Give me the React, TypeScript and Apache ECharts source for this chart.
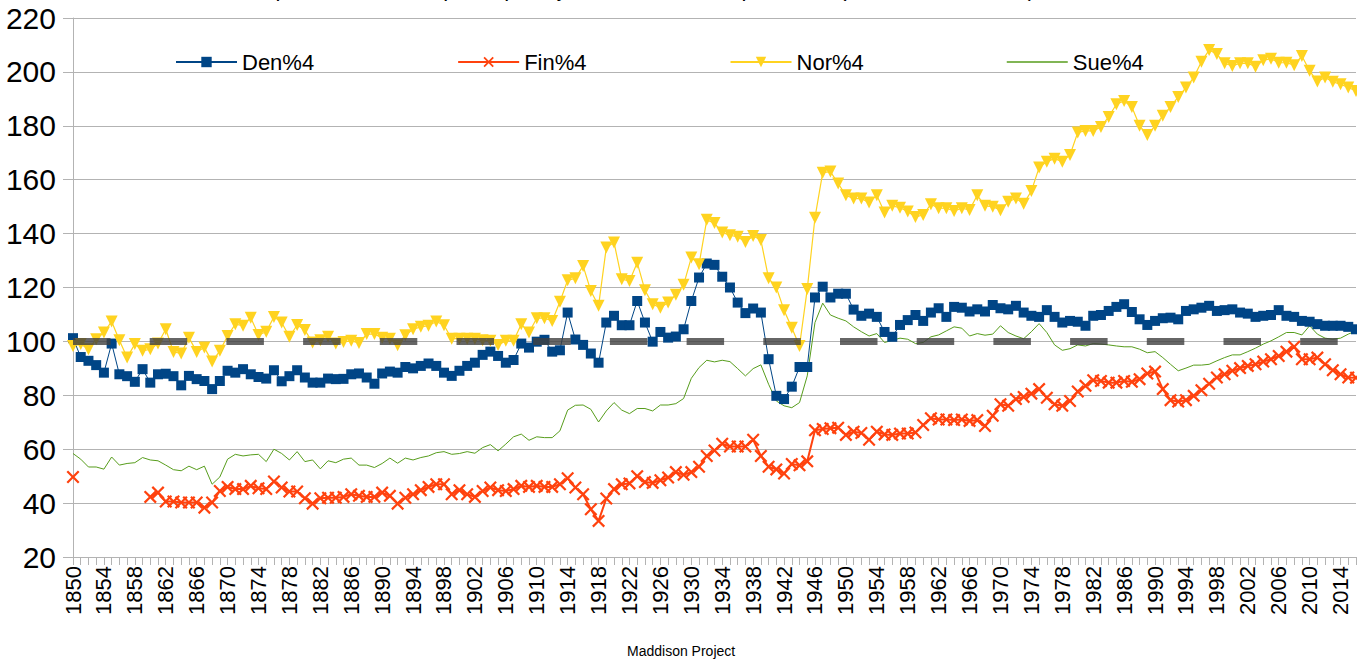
import React, { useEffect, useRef } from "react";
import * as echarts from "echarts";

const FIRST_YEAR = 1850;

const den: number[] = [
  101.2, 94.2, 92.8, 91.2, 88.4, 99.2, 87.8, 87.1, 85.0, 89.7,
  84.7, 87.8, 88.0, 87.1, 83.7, 87.2, 86.0, 85.3, 82.3, 85.3,
  89.1, 88.4, 89.7, 87.8, 86.8, 86.2, 89.3, 85.2, 87.1, 89.3,
  86.6, 84.7, 84.7, 86.2, 86.0, 86.1, 87.8, 88.1, 86.6, 84.3,
  88.1, 88.8, 88.4, 90.5, 90.0, 90.9, 91.8, 90.9, 88.4, 87.2,
  89.1, 90.9, 92.1, 95.0, 96.2, 94.6, 92.1, 93.1, 99.2, 97.7,
  99.9, 100.6, 96.2, 96.7, 110.7, 100.7, 98.7, 95.5, 92.1, 107.0,
  109.5, 106.0, 106.0, 115.0, 107.0, 99.9, 103.5, 101.4, 101.8, 104.5,
  115.0, 123.7, 128.9, 128.4, 124.0, 120.0, 114.4, 110.5, 112.2, 110.7,
  93.4, 79.8, 78.6, 83.2, 90.5, 90.5, 116.3, 120.3, 116.3, 117.7,
  117.7, 111.8, 109.5, 110.3, 109.1, 103.5, 101.7, 106.1, 107.9, 109.8,
  107.6, 110.7, 112.3, 109.1, 112.8, 112.5, 111.1, 111.9, 111.1, 113.5,
  112.3, 111.9, 113.2, 110.7, 109.5, 109.1, 111.6, 109.1, 107.0, 107.6,
  107.3, 105.8, 109.5, 109.8, 111.3, 112.8, 113.8, 110.9, 108.2, 106.1,
  107.6, 108.6, 108.8, 108.2, 111.3, 111.9, 112.5, 113.2, 111.3, 111.6,
  111.9, 110.7, 110.3, 109.1, 109.5, 109.8, 111.6, 109.5, 109.1, 107.6,
  107.3, 106.4, 105.8, 105.8, 105.8, 105.4, 104.5,
];

const fin: (number | null)[] = [
  49.7, null, null, null, null, null, null, null, null, null,
  42.3, 43.9, 40.6, 40.6, 40.2, 40.2, 40.2, 38.3, 40.2, 44.5,
  46.0, 45.2, 45.2, 46.4, 45.5, 45.2, 48.0, 45.8, 44.3, 44.3,
  41.8, 39.8, 41.8, 42.0, 42.0, 42.3, 43.3, 42.7, 42.3, 42.3,
  43.9, 42.7, 39.8, 42.0, 43.3, 44.8, 46.0, 47.0, 47.0, 43.3,
  44.8, 43.3, 42.3, 44.5, 45.8, 44.8, 44.5, 45.2, 46.4, 46.0,
  46.4, 46.0, 46.0, 47.0, 49.2, 45.8, 43.3, 37.7, 33.4, 41.7,
  45.2, 47.0, 47.3, 50.0, 47.8, 47.5, 48.5, 49.5, 51.5, 50.5,
  51.5, 53.5, 57.5, 59.5, 62.0, 61.0, 61.0, 61.0, 63.5, 57.5,
  53.5, 52.5, 51.0, 54.5, 54.0, 55.5, 67.0, 67.5, 67.8, 68.0,
  65.3, 66.5, 66.0, 63.5, 66.5, 65.5, 65.3, 65.8, 65.8, 66.2,
  69.0, 71.5, 71.0, 71.0, 70.8, 71.0, 70.5, 70.8, 68.6, 72.4,
  76.7, 76.1, 78.6, 79.4, 80.6, 82.3, 79.1, 76.7, 76.1, 77.9,
  81.4, 83.5, 85.6, 85.3, 84.7, 84.7, 85.3, 85.0, 86.0, 88.1,
  88.8, 82.3, 78.2, 77.7, 78.2, 79.8, 81.9, 84.3, 86.6, 87.8,
  89.1, 90.1, 90.9, 91.5, 92.5, 93.4, 94.6, 96.2, 98.0, 93.4,
  93.4, 94.0, 91.5, 89.3, 87.8, 86.6, 86.5,
];

const nor: number[] = [
  98.3, 99.0, 97.1, 100.8, 103.3, 107.4, 100.4, 94.0, 99.0, 96.5,
  97.1, 99.2, 104.5, 96.1, 95.5, 101.4, 96.1, 97.7, 92.5, 96.5,
  102.0, 106.4, 105.8, 108.8, 102.4, 103.6, 109.1, 107.0, 101.7, 106.1,
  104.2, 99.6, 100.4, 101.7, 99.2, 99.8, 100.2, 99.4, 102.7, 102.7,
  101.4, 101.0, 98.6, 102.3, 104.5, 105.4, 105.8, 107.4, 106.0, 101.0,
  101.0, 101.0, 101.0, 100.4, 100.2, 98.7, 100.2, 100.2, 106.4, 103.3,
  108.6, 108.6, 107.6, 114.7, 122.7, 123.4, 128.0, 118.7, 113.2, 134.8,
  136.7, 123.1, 122.4, 129.2, 119.0, 113.8, 112.5, 114.4, 117.3, 121.0,
  131.1, 128.6, 145.1, 143.9, 140.4, 139.4, 138.8, 136.9, 139.1, 137.6,
  123.4, 120.0, 111.6, 105.1, 98.3, 119.4, 145.9, 162.6, 163.0, 158.6,
  154.2, 153.0, 153.0, 151.5, 154.2, 147.8, 150.3, 149.6, 148.2, 146.2,
  146.9, 150.9, 149.4, 149.4, 148.4, 149.4, 148.8, 154.2, 150.3, 150.0,
  148.7, 151.8, 153.0, 151.1, 155.8, 164.5, 166.7, 167.8, 166.7, 169.2,
  177.5, 178.1, 178.1, 179.6, 183.3, 188.0, 189.2, 187.0, 180.0, 176.6,
  180.0, 183.7, 187.0, 190.7, 194.2, 197.9, 203.8, 208.1, 206.6, 203.2,
  202.2, 203.2, 203.2, 201.9, 204.3, 204.9, 203.4, 203.4, 202.5, 205.9,
  200.4, 196.4, 197.9, 196.3, 195.4, 194.2, 192.9,
];

const sue: number[] = [
  58.4, 56.3, 53.4, 53.4, 52.6, 57.1, 54.1, 54.7, 55.0, 56.9,
  56.0, 55.7, 54.1, 52.4, 52.0, 53.7, 52.4, 53.7, 47.0, 49.7,
  56.3, 58.1, 57.5, 57.9, 58.1, 55.4, 60.0, 58.4, 56.0, 59.1,
  55.4, 56.0, 52.7, 55.7, 55.0, 56.3, 56.7, 54.1, 54.1, 53.2,
  54.7, 56.7, 54.8, 56.7, 56.0, 56.9, 57.5, 58.7, 59.1, 58.1,
  58.4, 59.1, 58.5, 60.6, 61.7, 59.4, 61.9, 64.6, 65.6, 63.3,
  64.6, 64.3, 64.3, 66.8, 74.5, 76.3, 76.4, 74.8, 70.1, 74.2,
  77.3, 74.5, 73.2, 75.1, 75.1, 74.2, 76.4, 76.4, 76.9, 78.8,
  86.3, 90.3, 93.0, 92.4, 93.0, 92.5, 89.9, 87.2, 89.9, 91.3,
  84.1, 77.9, 76.1, 75.4, 77.3, 87.2, 107.0, 114.2, 109.8, 108.6,
  107.6, 105.4, 103.6, 102.0, 102.9, 99.6, 100.4, 101.2, 100.8, 99.2,
  99.6, 101.7, 102.4, 103.9, 105.4, 104.9, 102.0, 102.9, 102.3, 102.7,
  105.8, 103.3, 102.0, 101.0, 103.6, 106.6, 103.3, 98.7, 96.7, 97.3,
  98.7, 98.3, 99.2, 99.0, 98.7, 98.3, 98.0, 98.0, 97.1, 95.8,
  96.2, 94.0, 91.5, 89.1, 90.1, 91.2, 91.2, 91.5, 92.8, 94.0,
  95.0, 95.0, 96.2, 97.5, 99.0, 100.2, 101.7, 103.3, 103.3, 102.4,
  105.8, 102.7, 101.2, 100.8, 101.2, 102.7, 103.9,
];

const years: string[] = den.map((_, i) => String(FIRST_YEAR + i));
const seriesNames = ["Den%4", "Fin%4", "Nor%4", "Sue%4"];
const seriesColors = ["#004586", "#ff420e", "#ffd320", "#579d1c"];
const REFERENCE_LEVEL = 100;
const Y_MIN = 20;
const Y_MAX = 220;
const Y_STEP = 20;

const TITLE = "Comparación del PIB per cápita ajustado, relativo al promedio (Den, Fin, Nor, Sue)";
const SOURCE = "Maddison Project";

const CROSS =
  "path://M0,2.4 L2.4,0 L10,7.6 L17.6,0 L20,2.4 L12.4,10 L20,17.6 L17.6,20 L10,12.4 L2.4,20 L0,17.6 L7.6,10 Z";
const LINE_ICON = "path://M0,0 L100,0 L100,2.4 L0,2.4 Z";

const FONT = "'Liberation Sans', Arial, sans-serif";
const NARROW = "'Liberation Sans Narrow', 'Arial Narrow', 'Liberation Sans', sans-serif";

export default function App() {
  const ref = useRef<HTMLDivElement>(null);
  useEffect(() => {
    if (!ref.current) return;
    const chart = echarts.init(ref.current, undefined, { renderer: "svg" });
    const axisGray = "#b3b3b3";
    chart.setOption({
      animation: false,
      backgroundColor: "#ffffff",
      textStyle: { fontFamily: FONT },
      grid: { left: 73, right: 1, top: 18, bottom: 104, containLabel: false },
      legend: {
        data: [
          { name: seriesNames[0] },
          { name: seriesNames[1] },
          { name: seriesNames[2] },
          {
            name: seriesNames[3],
            icon: LINE_ICON,
            itemStyle: { color: seriesColors[3], borderWidth: 0 },
          },
        ],
        left: 170,
        top: 46,
        itemWidth: 61,
        itemHeight: 13,
        itemGap: 143,
        textStyle: { fontSize: 22, color: "#000", fontFamily: FONT },
      },
      xAxis: {
        type: "category",
        data: years,
        boundaryGap: false,
        axisLine: { show: true, lineStyle: { color: axisGray, width: 1 } },
        axisTick: { show: true, interval: 0, length: 8, lineStyle: { color: axisGray } },
        axisLabel: {
          interval: 3,
          rotate: 90,
          fontSize: 22,
          color: "#000",
          margin: 9,
          fontFamily: FONT,
        },
        splitLine: { show: false },
      },
      yAxis: {
        type: "value",
        min: Y_MIN,
        max: Y_MAX,
        interval: Y_STEP,
        axisLine: { show: true, lineStyle: { color: axisGray, width: 1 } },
        axisTick: { show: true, length: 10, lineStyle: { color: axisGray } },
        axisLabel: { fontSize: 30, color: "#000", margin: 17, fontFamily: NARROW },
        splitLine: { show: true, lineStyle: { color: axisGray, width: 1 } },
      },
      graphic: [
        {
          type: "text",
          right: 1357 - 1035,
          top: -23,
          style: { text: TITLE, fontSize: 22, fill: "#000", fontFamily: FONT },
          silent: true,
        },
        {
          type: "text",
          left: 627,
          top: 644,
          style: { text: SOURCE, fontSize: 14, fill: "#000", fontFamily: FONT },
          silent: true,
        },
      ],
      series: [
        {
          name: seriesNames[0],
          type: "line",
          data: den,
          symbol: "rect",
          symbolSize: 10,
          showAllSymbol: true,
          itemStyle: { color: seriesColors[0] },
          lineStyle: { color: seriesColors[0], width: 1 },
        },
        {
          name: seriesNames[1],
          type: "line",
          data: fin,
          symbol: CROSS,
          symbolSize: 13,
          showAllSymbol: true,
          connectNulls: false,
          itemStyle: { color: seriesColors[1] },
          lineStyle: { color: seriesColors[1], width: 2 },
        },
        {
          name: seriesNames[2],
          type: "line",
          data: nor,
          symbol: "triangle",
          symbolRotate: 180,
          symbolSize: 12,
          showAllSymbol: true,
          itemStyle: { color: seriesColors[2] },
          lineStyle: { color: seriesColors[2], width: 1.2 },
        },
        {
          name: seriesNames[3],
          type: "line",
          data: sue,
          showSymbol: false,
          symbol: "none",
          itemStyle: { color: seriesColors[3] },
          lineStyle: { color: seriesColors[3], width: 1 },
          markLine: {
            silent: true,
            symbol: "none",
            label: { show: false },
            lineStyle: {
              color: "#404040",
              opacity: 0.8,
              width: 7,
              type: [37.5, 39.2],
              cap: "butt",
            },
            data: [{ yAxis: REFERENCE_LEVEL }],
          },
        },
      ],
    });
    return () => chart.dispose();
  }, []);
  return (
    <div
      ref={ref}
      style={{ position: "fixed", left: 0, top: 0, width: 1357, height: 661, background: "#fff" }}
    />
  );
}
